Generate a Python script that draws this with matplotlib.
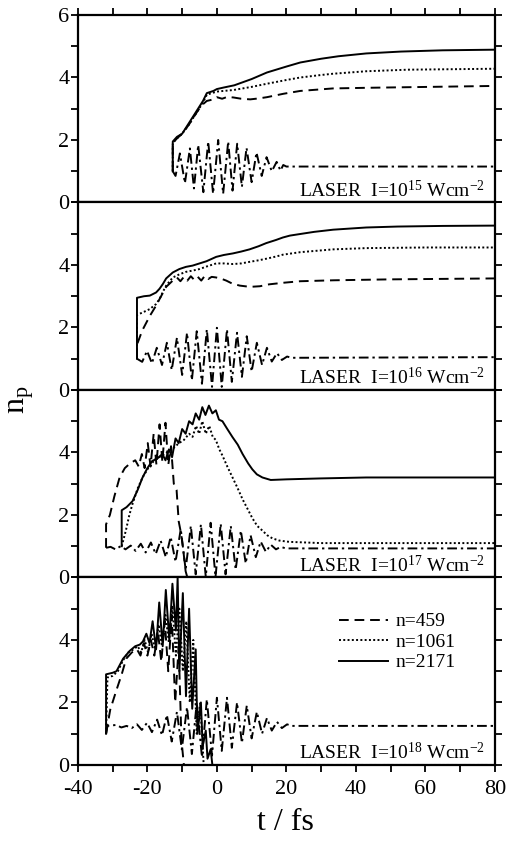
import numpy as np
import matplotlib
matplotlib.use('Agg')
import matplotlib.pyplot as plt
from matplotlib.ticker import MultipleLocator

plt.rcParams['font.family'] = ['Liberation Serif', 'DejaVu Serif']
plt.rcParams['mathtext.fontset'] = 'custom'
plt.rcParams['mathtext.rm'] = 'Liberation Serif'
plt.rcParams['mathtext.it'] = 'Liberation Serif'
plt.rcParams['mathtext.default'] = 'regular'
plt.rcParams['axes.unicode_minus'] = False

# --- data (t in fs, n_p) ---
intensities = ['15', '16', '17', '18']
labels = ['n=459', 'n=1061', 'n=2171']

# I = 1e15
t15_das = [-12.7, -12.7, -11.5, -10, -8, -6, -4.5, -2.9, -1, 0, 1.5, 3, 4.8, 7, 9.6, 12, 14.4, 19.2, 24, 33.4, 43, 80]
y15_das = [1.0, 1.9, 2.05, 2.2, 2.5, 2.85, 3.1, 3.25, 3.3, 3.37, 3.32, 3.38, 3.36, 3.32, 3.3, 3.33, 3.37, 3.48, 3.57, 3.65, 3.67, 3.73]
t15_dot = [-12.7, -12.7, -11.5, -10, -8, -6, -4, -2.9, 0, 4.8, 10, 14.4, 20, 24, 30, 33.4, 43, 55, 80]
y15_dot = [1.0, 1.9, 2.05, 2.2, 2.5, 2.85, 3.2, 3.45, 3.55, 3.6, 3.7, 3.8, 3.92, 4.0, 4.08, 4.12, 4.2, 4.25, 4.28]
t15_sol = [-12.7, -12.7, -11.5, -10, -8, -6, -4, -2.9, -1, 0, 2, 5, 10, 14.4, 20, 24, 30, 35, 43, 53, 65, 80]
y15_sol = [1.0, 1.95, 2.1, 2.2, 2.55, 2.9, 3.25, 3.5, 3.57, 3.63, 3.68, 3.75, 3.95, 4.16, 4.35, 4.48, 4.6, 4.68, 4.77, 4.83, 4.87, 4.89]
t15_dd = [-12.7, -11.9, -10.65, -9.2, -7.77, -6.6, -5.38, -3.9, -2.5, -1.1, 0.37, 1.8, 3.25, 4.5,
          5.84, 7.2, 8.53, 10, 11.4, 12.9, 14.3, 15.8, 17.2, 18.3, 19.1, 20, 80]
y15_dd = [1.0, 0.85, 1.57, 0.62, 1.73, 0.45, 1.84, 0.33, 1.95, 0.28, 2.0, 0.28, 1.95, 0.38,
          1.88, 0.5, 1.75, 0.65, 1.6, 0.85, 1.45, 1.0, 1.3, 1.02, 1.2, 1.15, 1.15]

# I = 1e16
t16_das = [-23, -23, -21.5, -19.3, -17.5, -16.5, -14.6, -12.7, -11.5, -10.5, -9.5, -8.5, -7.5, -6.5, -5.5,
           -4.5, -3.5, -2.5, -1.5, -0.2, 1.5, 2.7, 4.5, 6.6, 9.5, 12.4, 15, 19, 24, 33.5, 50, 80]
y16_das = [1.0, 1.45, 1.9, 2.37, 2.7, 2.91, 3.3, 3.5, 3.6, 3.48, 3.62, 3.5, 3.64, 3.52, 3.62,
           3.5, 3.65, 3.55, 3.62, 3.6, 3.55, 3.5, 3.4, 3.34, 3.3, 3.32, 3.38, 3.43, 3.48, 3.51, 3.54, 3.57]
t16_dot = [-23, -23, -21, -19.3, -17.5, -16.5, -15.5, -14.6, -12.7, -10.8, -8.9, -7, -5, -3, -0.2, 2,
           4.6, 7, 9.4, 12, 14.2, 17, 19, 24, 33.5, 43, 60, 80]
y16_dot = [1.0, 2.4, 2.5, 2.59, 2.75, 2.91, 3.15, 3.34, 3.6, 3.7, 3.78, 3.82, 3.87, 3.95, 4.05, 4.05,
           4.03, 4.05, 4.1, 4.15, 4.2, 4.27, 4.33, 4.41, 4.5, 4.54, 4.56, 4.56]
t16_sol = [-23, -23, -21, -19.3, -17.5, -16.5, -15.5, -14.6, -12.7, -10.8, -8.9, -7, -5, -3, -0.2, 2,
           4.6, 7, 9.4, 12, 14.2, 17, 19, 21, 23.9, 28, 33.5, 43, 52, 65, 80]
y16_sol = [1.0, 2.95, 3.0, 3.02, 3.12, 3.24, 3.4, 3.57, 3.76, 3.87, 3.94, 3.98, 4.05, 4.12, 4.26, 4.32,
           4.37, 4.43, 4.5, 4.6, 4.7, 4.8, 4.88, 4.94, 4.99, 5.06, 5.13, 5.2, 5.23, 5.25, 5.26]
t16_dd = [-23, -21.5, -20.1, -18.7, -17.3, -15.8, -14.4, -13, -11.5, -10, -8.6, -7.2, -5.8, -4.3, -2.9,
          -1.4, 0, 1.4, 2.9, 4.3, 5.8, 7.2, 8.6, 10, 11.5, 13, 14.4, 15.8, 17.3, 18.7, 20.2, 21.5, 80]
y16_dd = [1.0, 0.9, 1.25, 0.85, 1.35, 0.8, 1.51, 0.64, 1.67, 0.48, 1.83, 0.31, 1.88, 0.2, 1.94,
          0.1, 1.99, 0.1, 1.94, 0.26, 1.83, 0.42, 1.72, 0.59, 1.51, 0.8, 1.35, 0.91, 1.18, 0.96, 1.07, 1.03, 1.05]

# I = 1e17
t17_das = [-31.9, -31.9, -30.8, -29.5, -28, -26.5, -25, -23.5, -22.5, -21.6, -20.8, -19.9, -19.1, -18.2,
           -17.4, -16.5, -15.7, -14.8, -14, -13.2, -12.4, -11.6, -11, -10.3, -9.7, -9, -8.5, 80]
y17_das = [0.95, 1.7, 2.0, 2.6, 3.2, 3.5, 3.65, 3.75, 3.55, 3.95, 3.5, 4.3, 3.55, 4.6,
           3.6, 4.9, 3.7, 4.95, 3.6, 4.2, 3.0, 2.8, 1.8, 1.4, 0.9, 0.2, 0.0, 0.0]
t17_dot = [-27.4, -26.2, -25.2, -24.3, -22.8, -21.4, -19.5, -17.6, -15.7, -13.8, -12.4, -10.9, -9.5, -8,
           -7, -6, -5.1, -4.2, -3.2, -2.2, -1.2, -0.3, 0.7, 1.6, 3, 4.5, 6, 7.4, 8.8, 10.2, 11.6, 13.1,
           14.5, 16, 18, 20.8, 30, 80]
y17_dot = [1.0, 1.5, 2.0, 2.35, 2.85, 3.2, 3.55, 3.8, 3.9, 4.05, 4.15, 4.3, 4.4, 4.6,
           4.5, 4.85, 4.6, 5.0, 4.6, 4.85, 4.5, 4.4, 4.1, 3.9, 3.55, 3.2, 2.85, 2.5, 2.2, 1.9, 1.65, 1.5,
           1.35, 1.25, 1.18, 1.14, 1.1, 1.1]
t17_sol = [-27.4, -27.4, -26, -24.3, -22.8, -21.4, -20, -18.6, -17.2, -15.7, -14.8, -13.8, -12.9, -11.9,
           -11, -10, -9, -8, -7, -6.1, -5.1, -4.2, -3.3, -2.3, -1.3, -0.3, 0.6, 1.6, 3, 4.5, 6, 7.4, 9,
           10.2, 11.5, 13.1, 15.5, 20, 30, 43, 80]
y17_sol = [1.0, 2.15, 2.25, 2.44, 2.8, 3.2, 3.5, 3.73, 3.8, 3.95, 3.75, 4.1, 3.85, 4.45,
           4.3, 4.75, 4.6, 5.0, 4.9, 5.25, 5.05, 5.45, 5.2, 5.5, 5.25, 5.35, 5.05, 5.0, 4.75, 4.49, 4.25, 3.95, 3.65,
           3.46, 3.3, 3.2, 3.12, 3.14, 3.17, 3.2, 3.2]
t17_dd = [-31.9, -30.6, -29.2, -27.7, -26.3, -24.8, -23.4, -21.9, -20.5, -19.0, -17.6, -16.2, -14.7, -13.3,
          -11.9, -10.4, -9.0, -7.5, -6.1, -4.6, -3.2, -1.8, -0.4, 1.1, 2.5, 4.0, 5.4, 6.9, 8.3, 9.7, 11.2,
          12.6, 14.1, 15.5, 17.0, 18.4, 19.8, 80]
y17_dd = [0.95, 0.98, 0.9, 1.0, 0.9, 1.02, 0.85, 1.08, 0.8, 1.12, 0.75, 1.18, 0.65, 1.3,
          0.5, 1.55, 0.25, 1.65, 0.1, 1.7, 0.02, 1.75, 0.02, 1.72, 0.1, 1.65, 0.25, 1.5, 0.45, 1.35, 0.65,
          1.15, 0.82, 1.05, 0.9, 0.98, 0.93, 0.93]

# I = 1e18
t18_das = [-31.9, -30.7, -28.9, -27.4, -26.1, -24.5, -23, -22, -21, -20, -19, -18, -17, -16, -15, -14,
           -13, -12, -11, -10.2, -9.5, 80]
y18_das = [1.0, 1.77, 2.4, 2.9, 3.4, 3.6, 3.7, 3.5, 3.9, 3.5, 4.0, 3.5, 4.3, 3.3, 4.6, 3.0,
           4.8, 2.0, 3.8, 0.8, 0.0, 0.0]
t18_dot = [-31.9, -31.5, -30, -28.5, -27, -25.5, -24, -22.8, -21.8, -20.8, -19.8, -18.8, -17.8, -16.8,
           -15.8, -14.8, -13.8, -12.8, -11.8, -10.8, -9.8, -8.8, -7.8, -6.8, -5.8, -4.8, -3.8, 80]
y18_dot = [1.0, 2.8, 2.85, 3.0, 3.35, 3.6, 3.7, 3.8, 3.6, 4.0, 3.6, 4.2, 3.7, 4.5,
           3.8, 4.8, 3.9, 5.1, 3.5, 5.0, 3.0, 4.6, 2.0, 4.0, 1.0, 2.0, 0.0, 0.0]
t18_sol = [-31.9, -31.9, -30, -28.9, -27, -25.1, -23.5, -22.2, -21.3, -20.3, -19.4, -18.5, -17.5, -16.6,
           -15.6, -14.7, -13.7, -12.8, -11.8, -11.3, -10.8, -9.8, -8.9, -8, -7.1, -6.1, -5.6, -4.6, -4.1,
           -3.2, -2.7, -1.8, -1.3, 80]
y18_sol = [1.0, 2.9, 2.95, 3.0, 3.4, 3.65, 3.8, 3.85, 3.95, 4.2, 3.9, 4.6, 3.7, 5.2,
           3.8, 5.6, 4.0, 5.8, 4.3, 6.0, 3.0, 5.5, 2.2, 5.0, 1.8, 3.7, 1.0, 2.0, 0.6,
           1.1, 0.2, 0.5, 0.0, 0.0]
t18_dd = [-31.9, -31.5, -29, -27.5, -26, -24.5, -23, -21.6, -20.1, -18.7, -17.2, -15.8, -14.4, -13,
          -11.5, -10.1, -8.6, -7.2, -5.8, -4.3, -2.9, -1.4, 0, 1.4, 2.9, 4.3, 5.8, 7.2, 8.6, 10, 11.5,
          13, 14.4, 15.8, 17.3, 18.7, 20.2, 21.5, 80]
y18_dd = [1.0, 1.25, 1.28, 1.2, 1.25, 1.18, 1.3, 1.12, 1.35, 1.05, 1.45, 0.95, 1.6, 0.75,
          1.7, 0.5, 1.85, 0.35, 2.0, 0.25, 2.1, 0.3, 2.15, 0.45, 2.15, 0.55, 2.0, 0.7, 1.9, 0.85, 1.7,
          1.0, 1.5, 1.1, 1.38, 1.18, 1.3, 1.25, 1.25]

panels = [
    (t15_das, y15_das, t15_dot, y15_dot, t15_sol, y15_sol, t15_dd, y15_dd),
    (t16_das, y16_das, t16_dot, y16_dot, t16_sol, y16_sol, t16_dd, y16_dd),
    (t17_das, y17_das, t17_dot, y17_dot, t17_sol, y17_sol, t17_dd, y17_dd),
    (t18_das, y18_das, t18_dot, y18_dot, t18_sol, y18_sol, t18_dd, y18_dd),
]

fig, axes = plt.subplots(4, 1, figsize=(5.16, 8.57), dpi=100, sharex=True)
fig.subplots_adjust(left=0.151, right=0.959, top=0.9825, bottom=0.1074, hspace=0)

for i, ax in enumerate(axes):
    td, yd, to, yo, ts, ys, tdd, ydd = panels[i]
    ax.plot(td, yd, color='black', lw=1.4, dashes=(5, 3), label=labels[0])
    ax.plot(to, yo, color='black', lw=1.4, dashes=(1, 1.2), label=labels[1])
    ax.plot(ts, ys, color='black', lw=1.4, label=labels[2])
    ax.plot(tdd, ydd, color='black', lw=1.4, dashes=(5, 2, 1.2, 2))

    ax.set_xlim(-40, 80)
    ax.set_ylim(0, 6)
    ax.xaxis.set_major_locator(MultipleLocator(20))
    ax.xaxis.set_minor_locator(MultipleLocator(10))
    ax.set_yticks([0, 2, 4, 6] if i == 0 else [0, 2, 4])
    ax.yaxis.set_minor_locator(MultipleLocator(1))
    ax.tick_params(axis='both', which='both', direction='out', length=5, width=1.3,
                   labelsize=16, pad=1, right=True, top=(i == 0))
    ax.tick_params(axis='x', pad=6)
    for s in ax.spines.values():
        s.set_linewidth(1.6)

    ax.text(0.976, 0.03, 'LASER  I=10$^{' + intensities[i] + '}$ Wcm$^{-2}$',
            transform=ax.transAxes, ha='right', va='baseline', fontsize=14)

axes[3].legend(loc='upper left', bbox_to_anchor=(0.626, 0.812), frameon=False,
               fontsize=14, handlelength=2.5, handletextpad=0.4, labelspacing=0.15,
               borderpad=0, borderaxespad=0)

fig.text(285 / 516, 1 - 822 / 857, 't / fs', ha='center', va='center', fontsize=23)
fig.text(22 / 516, 1 - 400 / 857, 'n$_{p}$', ha='center', va='center', fontsize=23, rotation=90)

fig.savefig('out.png', dpi=100)
